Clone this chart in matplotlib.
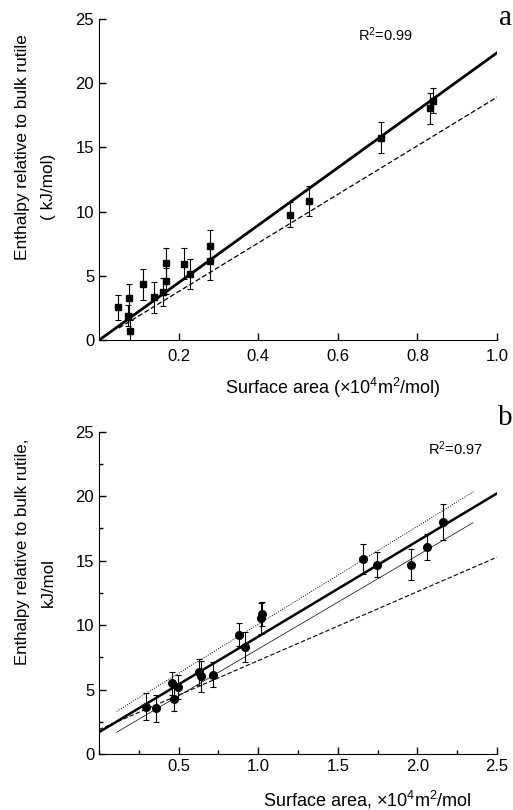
import numpy as np
import matplotlib.pyplot as plt
from matplotlib.ticker import MultipleLocator

plt.rcParams['font.family'] = ['Liberation Sans', 'DejaVu Sans']
plt.rcParams['mathtext.fontset'] = 'custom'
plt.rcParams['mathtext.rm'] = 'Liberation Sans'
plt.rcParams['mathtext.it'] = 'Liberation Sans:italic'

# panel a: surface area (1e4 m2/mol) vs enthalpy (kJ/mol)
xa = [0.048, 0.075, 0.072, 0.079, 0.111, 0.139, 0.160, 0.168, 0.169,
      0.213, 0.228, 0.279, 0.279, 0.479, 0.527, 0.709, 0.832, 0.838]
ya = [2.55, 3.25, 1.92, 0.75, 4.34, 3.33, 3.74, 5.98, 4.60,
      5.93, 5.15, 7.30, 6.13, 9.77, 10.84, 15.75, 18.04, 18.63]
ea = [1.0, 1.1, 0.8, 0.8, 1.2, 1.2, 1.1, 1.2, 1.0,
      1.2, 1.2, 1.25, 1.45, 1.0, 1.17, 1.2, 1.2, 1.0]
# (intercept, slope, x range)
fit_a = (0.0, 22.35, (0.0, 1.0))
ref_a = (0.0, 18.9, (0.05, 1.0))

# panel b
xb = [0.297, 0.356, 0.456, 0.473, 0.494, 0.626, 0.640, 0.713, 0.881,
      0.914, 1.017, 1.025, 1.659, 1.745, 1.962, 2.059, 2.163]
yb = [3.69, 3.56, 5.48, 4.29, 5.24, 6.35, 6.02, 6.17, 9.27,
      8.32, 10.54, 10.87, 15.11, 14.70, 14.67, 16.06, 18.03]
eb = [1.03, 1.05, 0.9, 0.93, 0.93, 1.0, 1.18, 0.95, 0.9,
      1.15, 1.2, 0.95, 1.15, 1.0, 1.2, 1.03, 1.4]
fit_b = (1.70, 7.41, (0.0, 2.5))
upper_b = (2.47, 7.60, (0.111, 2.354))
lower_b = (0.89, 7.26, (0.111, 2.349))
ref_b = (1.90, 5.35, (0.0, 2.5))


def draw_line(ax, params, **kw):
    b, m, (x0, x1) = params
    x = np.array([x0, x1])
    ax.plot(x, b + m * x, **kw)


def style_axes(ax):
    ax.spines['top'].set_visible(False)
    ax.spines['right'].set_visible(False)
    ax.tick_params(direction='in', length=5, width=1, labelsize=12)
    ax.tick_params(which='minor', direction='in', length=3, width=1)
    ax.set_ylim(0, 25)
    ax.yaxis.set_major_locator(MultipleLocator(5))


fig = plt.figure(figsize=(5.13, 8.10), dpi=100)

ax1 = fig.add_axes([0.193, 0.580, 0.776, 0.397])
ax1.errorbar(xa, ya, yerr=ea, fmt='s', color='black', ms=4.7,
             elinewidth=0.8, capsize=2.5, capthick=0.8)
draw_line(ax1, fit_a, color='black', lw=2)
draw_line(ax1, ref_a, color='black', lw=0.9, ls=(0, (4, 2)))
style_axes(ax1)
ax1.set_xlim(0, 1.0)
ax1.set_xticks([0.2, 0.4, 0.6, 0.8, 1.0])
ax1.tick_params(axis='x', pad=6)
ax1.text(0.651, 0.95, 'R$^2$=0.99', transform=ax1.transAxes,
         fontsize=10.5, va='center')

ax2 = fig.add_axes([0.193, 0.069, 0.776, 0.398])
ax2.errorbar(xb, yb, yerr=eb, fmt='o', color='black', ms=5.5,
             elinewidth=0.8, capsize=2.5, capthick=0.8)
draw_line(ax2, fit_b, color='black', lw=1.8)
draw_line(ax2, upper_b, color='black', lw=0.7, ls=(0, (1, 1.5)))
draw_line(ax2, lower_b, color='black', lw=0.5)
draw_line(ax2, ref_b, color='black', lw=0.8, ls=(0, (4, 2)))
style_axes(ax2)
ax2.set_xlim(0, 2.5)
ax2.set_xticks([0.5, 1.0, 1.5, 2.0, 2.5])
ax2.xaxis.set_minor_locator(MultipleLocator(0.25))
ax2.yaxis.set_minor_locator(MultipleLocator(2.5))
ax2.text(0.826, 0.946, 'R$^2$=0.97', transform=ax2.transAxes,
         fontsize=10.5, va='center')

# axis titles
fig.text(333 / 513, 1 - 388 / 810, r'Surface area ($\times$10$^4$m$^2$/mol)',
         ha='center', va='center', fontsize=13)
fig.text(367 / 513, 1 - 800 / 810, r'Surface area, $\times$10$^4$m$^2$/mol',
         ha='center', va='center', fontsize=13)
fig.text(23 / 513, 1 - 147 / 810, 'Enthalpy relative to bulk rutile',
         rotation=90, ha='center', va='center', fontsize=12.4)
fig.text(48 / 513, 1 - 187 / 810, '( kJ/mol)',
         rotation=90, ha='center', va='center', fontsize=12.4)
fig.text(23 / 513, 1 - 552 / 810, 'Enthalpy relative to bulk rutile,',
         rotation=90, ha='center', va='center', fontsize=12.2)
fig.text(48 / 513, 1 - 583 / 810, 'kJ/mol',
         rotation=90, ha='center', va='center', fontsize=12.2)

# panel letters
fig.text(505 / 513, 1 - 25 / 810, 'a', family='Liberation Serif',
         ha='center', va='baseline', fontsize=21)
fig.text(505 / 513, 1 - 425 / 810, 'b', family='Liberation Serif',
         ha='center', va='baseline', fontsize=21)

fig.savefig('out.png', dpi=100)
